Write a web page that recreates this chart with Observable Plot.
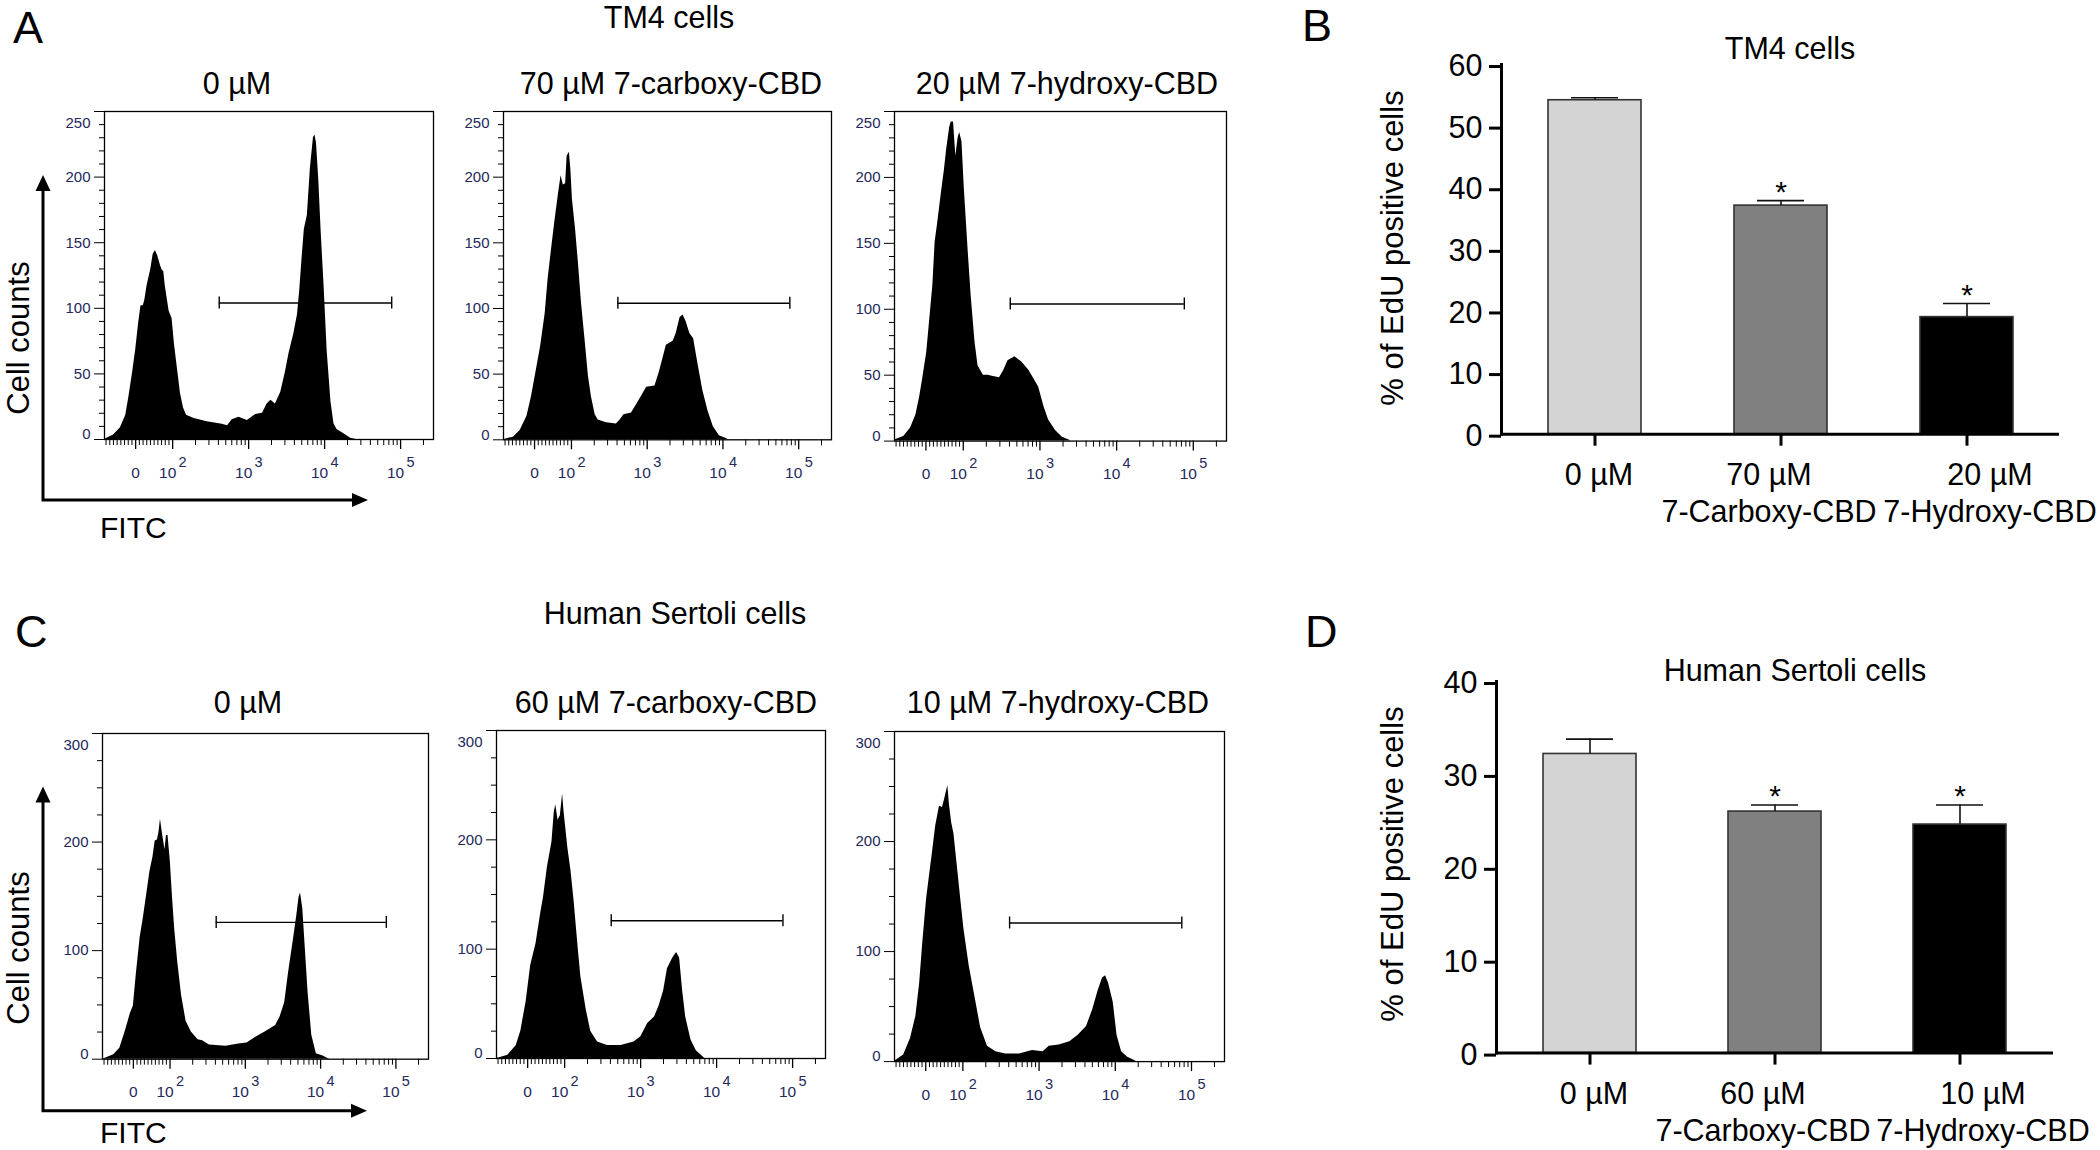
<!DOCTYPE html>
<html>
<head>
<meta charset="utf-8">
<script src="https://cdn.jsdelivr.net/npm/d3@7"></script>
<script src="https://cdn.jsdelivr.net/npm/@observablehq/plot@0.6"></script>
<style>
  html, body { margin: 0; padding: 0; background: #fff; }
  #fig { position: relative; width: 2100px; height: 1150px; overflow: hidden; background: #fff;
         font-family: "Liberation Sans", Arial, Helvetica, sans-serif; }
</style>
</head>
<body>
<div id="fig"></div>
<script>
// ---------------- DATA ----------------
// Flow-cytometry histograms: [FITC position on the biexponential display (decades, 0 at the "0" tick), cell count]
const tm4Control = [[-0.41,0],[-0.38,1],[-0.29,3.5],[-0.20,9],[-0.13,18.5],[-0.09,32],[-0.04,51],[0,68],[0.04,89],[0.07,102],[0.10,102],[0.12,106],[0.15,117],[0.20,130],[0.23,141],[0.26,144],[0.29,140],[0.33,132],[0.35,129],[0.37,128],[0.39,117],[0.44,98],[0.48,92],[0.51,73],[0.55,54],[0.59,35],[0.63,24],[0.67,18.5],[0.77,16],[0.94,13.6],[1.14,11.7],[1.21,10.4],[1.27,15],[1.36,17],[1.47,14.4],[1.58,19],[1.67,20],[1.73,27],[1.78,30],[1.84,27],[1.91,36],[1.97,51],[2.02,66],[2.08,80],[2.13,95],[2.16,114],[2.19,138],[2.22,160],[2.26,171],[2.30,207],[2.34,230],[2.36,232],[2.38,226],[2.41,198],[2.44,160],[2.48,117],[2.52,68],[2.57,29],[2.61,12],[2.65,7.6],[2.74,4.4],[2.83,1],[2.90,0]];
const tm4Carboxy = [[-0.41,0],[-0.39,0.5],[-0.28,2],[-0.19,7],[-0.10,18],[-0.04,33],[0.03,55],[0.08,71],[0.14,96],[0.18,123],[0.23,148],[0.27,167],[0.32,189],[0.35,201],[0.38,194],[0.41,195],[0.43,216],[0.46,219],[0.48,205],[0.50,183],[0.54,161],[0.58,134],[0.62,104],[0.67,74],[0.71,49],[0.75,33],[0.80,19],[0.84,15],[0.95,13],[1.08,12],[1.13,15],[1.18,19],[1.28,20.5],[1.35,27],[1.41,33],[1.48,40],[1.59,41],[1.65,52],[1.70,63],[1.74,72],[1.83,75],[1.87,81],[1.92,93],[1.96,95],[2.00,90],[2.05,81],[2.10,77],[2.16,57],[2.22,38],[2.29,22],[2.36,10],[2.44,3],[2.53,1],[2.56,0]];
const tm4Hydroxy = [[-0.41,0],[-0.40,1],[-0.29,3.5],[-0.20,10],[-0.13,20],[-0.08,34],[-0.04,48],[0.01,67],[0.04,86],[0.09,118],[0.12,151],[0.15,164],[0.18,178],[0.21,192],[0.24,205],[0.27,221],[0.31,238],[0.33,242],[0.36,242],[0.39,216],[0.42,230],[0.44,234],[0.47,227],[0.50,192],[0.55,145],[0.59,110],[0.64,75],[0.68,57],[0.75,50],[0.81,50],[0.88,49],[0.96,48],[1.01,53],[1.07,61],[1.16,64],[1.25,60],[1.34,54],[1.40,48],[1.47,41],[1.54,26],[1.60,16],[1.69,8],[1.78,3],[1.86,1],[1.89,0]];
const sertoliControl = [[-0.41,0],[-0.39,0.5],[-0.26,4],[-0.18,10],[-0.11,25],[-0.04,42],[0,49],[0.04,79],[0.09,112],[0.13,129],[0.18,153],[0.22,173],[0.26,186],[0.29,201],[0.32,202],[0.34,209],[0.36,221],[0.39,206],[0.42,193],[0.44,206],[0.46,206],[0.49,183],[0.52,149],[0.55,119],[0.59,89],[0.64,59],[0.70,35],[0.77,25],[0.86,18],[0.92,17],[1.01,13],[1.23,12],[1.40,14],[1.51,15],[1.62,20],[1.75,25],[1.89,31],[1.95,39],[2.01,52],[2.06,79],[2.13,112],[2.17,132],[2.20,149],[2.22,153],[2.25,139],[2.28,106],[2.32,62],[2.37,22],[2.43,5],[2.52,3],[2.59,0.5],[2.61,0]];
const sertoliCarboxy = [[-0.41,0],[-0.37,0.7],[-0.26,3],[-0.15,12],[-0.09,25],[-0.02,52],[0.04,85],[0.11,105],[0.17,132],[0.21,148],[0.26,175],[0.32,198],[0.35,225],[0.37,232],[0.40,218],[0.43,222],[0.46,242],[0.48,225],[0.53,192],[0.57,172],[0.61,145],[0.66,105],[0.70,75],[0.77,45],[0.83,25],[0.92,15],[1.05,12],[1.23,12],[1.40,15],[1.49,20],[1.58,32],[1.67,38],[1.73,48],[1.79,62],[1.84,82],[1.91,92],[1.96,97],[2.00,92],[2.04,62],[2.08,38],[2.15,17],[2.22,7],[2.30,2],[2.33,0]];
const sertoliHydroxy = [[-0.41,0],[-0.40,0.7],[-0.29,6],[-0.20,21],[-0.13,41],[-0.08,71],[-0.04,107],[0.01,147],[0.04,164],[0.09,191],[0.13,214],[0.18,232],[0.22,231],[0.25,239],[0.29,251],[0.31,234],[0.34,217],[0.37,207],[0.42,174],[0.46,147],[0.50,121],[0.57,87],[0.64,61],[0.72,31],[0.81,14],[0.92,9],[1.05,7],[1.23,7],[1.40,10],[1.54,9],[1.62,14],[1.75,15],[1.89,18],[2.00,24],[2.11,32],[2.19,47],[2.26,64],[2.32,76],[2.36,78],[2.40,71],[2.46,54],[2.51,24],[2.57,9],[2.65,4],[2.74,1],[2.76,0]];

// EdU-positive gates (display decades) and the count level at which each is drawn
const tm4Gate = [1.10, 3.37];
const tm4GateLevel = 104;
const sertoliGate = [1.10, 3.36];
const sertoliGateLevel = 126;

// FITC axis ticks (FITC intensity) and their labels
const xMajorTicks = [0, 1e2, 1e3, 1e4, 1e5];
const xMajorBase = ["0", "10", "10", "10", "10"];
const xMajorExp = ["", "2", "3", "4", "5"];

// Histogram titles
const tm4Titles = ["0 µM", "70 µM 7-carboxy-CBD", "20 µM 7-hydroxy-CBD"];
const sertoliTitles = ["0 µM", "60 µM 7-carboxy-CBD", "10 µM 7-hydroxy-CBD"];

// Bar charts: % of EdU positive cells (mean, SEM)
const tm4Doses = ["0 µM", "70 µM", "20 µM"];
const tm4Compounds = ["", "7-Carboxy-CBD", "7-Hydroxy-CBD"];
const tm4Mean = [54.2, 37.1, 19.0];
const tm4Sem = [0.4, 0.8, 2.2];
const sertoliDoses = ["0 µM", "60 µM", "10 µM"];
const sertoliCompounds = ["", "7-Carboxy-CBD", "7-Hydroxy-CBD"];
const sertoliMean = [32.2, 26.0, 24.6];
const sertoliSem = [1.6, 0.7, 2.1];
const significant = [false, true, true];

// ---------------- STYLE / HELPERS ----------------
const FONT = "'Liberation Sans', Arial, Helvetica, sans-serif";
const TICKTEXT = "#24285c";
const barFills = ["#d4d4d4", "#808080", "#000000"];
const labelNudge = [4, -12, 23];
const BARFONT = 30.5;
const fig = document.getElementById("fig");

// biexponential-style display: linear below 100, logarithmic above
function disp(v) { return v <= 100 ? 0.487 * v / 100 : 0.487 + Math.log10(v / 100); }
const xDomain = [-0.41, 3.92];

function place(el, left, top) {
  el.style.position = "absolute";
  el.style.left = left + "px";
  el.style.top = top + "px";
  el.style.maxWidth = "none";
  fig.appendChild(el);
}

function histogram(data, gate, gateLevel, yMax, yStepMajor, yStepMinor, frame) {
  const [L, T, R, B] = frame;
  const mL = 70, mR = 10, mT = 10, mB = 60;
  const innerH = B - T;
  const capHalf = 6 * yMax / innerH;
  const rows = data.map(([fitc, count]) => ({fitc, count}));
  const yMajor = d3.range(0, yMax + 1, yStepMajor);
  const yMinor = d3.range(0, yMax + 1, yStepMinor).filter(v => v % yStepMajor !== 0);
  const ticks = xMajorTicks.map((v, i) => ({x: disp(v), base: xMajorBase[i], exp: xMajorExp[i]}));
  const xMinor = [...d3.range(-80, 100, 10).filter(v => v !== 0),
                  ...[1e2, 1e3, 1e4].flatMap(p => [2,3,4,5,6,7,8,9].map(m => m * p)), 2e5];
  const svg = Plot.plot({
    width: R - L + mL + mR, height: B - T + mT + mB,
    marginLeft: mL, marginRight: mR, marginTop: mT, marginBottom: mB,
    style: {background: "transparent", overflow: "visible", fontFamily: FONT},
    x: {domain: xDomain, axis: null},
    y: {domain: [0, yMax], axis: null},
    marks: [
      Plot.areaY(rows, {x: "fitc", y: "count", fill: "#000", curve: "linear"}),
      Plot.frame({stroke: "#000", strokeWidth: 1.3}),
      Plot.axisY({ticks: yMinor, tickSize: 5, tickFormat: () => "", label: null, strokeWidth: 1}),
      Plot.axisY({ticks: yMajor, tickSize: 10, tickFormat: () => "", label: null, strokeWidth: 1}),
      Plot.text(yMajor.slice(1, -1), {y: d => d, text: d => String(d), frameAnchor: "left", textAnchor: "end", dx: -14, fontSize: 15, fill: TICKTEXT, fontFamily: FONT}),
      Plot.text([yMajor[0]], {y: d => d, text: d => String(d), frameAnchor: "left", textAnchor: "end", dx: -14, dy: -5, fontSize: 15, fill: TICKTEXT, fontFamily: FONT}),
      Plot.text([yMajor[yMajor.length - 1]], {y: d => d, text: d => String(d), frameAnchor: "left", textAnchor: "end", dx: -14, dy: 12, fontSize: 15, fill: TICKTEXT, fontFamily: FONT}),
      Plot.axisX({ticks: xMinor.map(disp), tickSize: 6, tickFormat: () => "", label: null, strokeWidth: 1}),
      Plot.axisX({ticks: xMajorTicks.map(disp), tickSize: 10, tickFormat: () => "", label: null, strokeWidth: 1.3}),
      Plot.text(ticks.filter(d => d.exp === ""), {x: "x", text: "base", frameAnchor: "bottom", dy: 38, fontSize: 15.5, fill: TICKTEXT, fontFamily: FONT}),
      Plot.text(ticks.filter(d => d.exp !== ""), {x: "x", text: "base", frameAnchor: "bottom", dy: 38, dx: -5, fontSize: 15.5, fill: TICKTEXT, fontFamily: FONT}),
      Plot.text(ticks.filter(d => d.exp !== ""), {x: "x", text: "exp", frameAnchor: "bottom", dy: 27, dx: 10, fontSize: 14.5, fill: TICKTEXT, fontFamily: FONT}),
      Plot.ruleY([gateLevel], {x1: () => gate[0], x2: () => gate[1], stroke: "#000", strokeWidth: 1.4}),
      Plot.ruleX(gate, {x: d => d, y1: () => gateLevel - capHalf, y2: () => gateLevel + capHalf, stroke: "#000", strokeWidth: 1.4})
    ]
  });
  place(svg, L - mL, T - mT);
}

function barChart(doses, compounds, means, sems, yMax, frame) {
  const [L, T, R, B] = frame;
  const mL = 80, mT = 30, mB = 100, mR = 2100 - R;
  const rows = doses.map((d, i) => ({
    group: compounds[i] ? d + "\n" + compounds[i] : d,
    mean: means[i], sem: sems[i], sig: significant[i], i
  }));
  const groups = rows.map(d => d.group);
  const svg = Plot.plot({
    width: R - L + mL + mR, height: B - T + mT + mB,
    marginLeft: mL, marginRight: mR, marginTop: mT, marginBottom: mB,
    style: {background: "transparent", overflow: "visible", fontFamily: FONT},
    x: {domain: groups, paddingInner: 0.5, paddingOuter: 0.25, axis: null},
    y: {domain: [0, yMax], axis: null},
    color: {type: "ordinal", domain: groups, range: barFills},
    marks: [
      Plot.barY(rows, {x: "group", y: "mean", fill: "group", stroke: "#333", strokeWidth: 1.6}),
      Plot.ruleX(rows, {x: "group", y1: "mean", y2: d => d.mean + d.sem, stroke: "#111", strokeWidth: 1.6}),
      Plot.tickY(rows, {x: "group", y: d => d.mean + d.sem, stroke: "#111", strokeWidth: 1.6, insetLeft: 23, insetRight: 23}),
      Plot.text(rows.filter(d => d.sig), {x: "group", y: d => d.mean + d.sem, text: () => "*", lineAnchor: "bottom", dy: 1, fontSize: 30, fontFamily: FONT}),
      Plot.ruleY([0], {stroke: "#000", strokeWidth: 3}),
      Plot.frame({anchor: "left", stroke: "#000", strokeWidth: 3}),
      Plot.axisY({ticks: d3.range(0, yMax + 1, 10), tickSize: 12, tickPadding: 7, strokeWidth: 3, fontSize: BARFONT, label: null, tickFormat: d => String(d), dy: 2, fontFamily: FONT}),
      Plot.axisX({tickSize: 12, strokeWidth: 3, tickFormat: () => "", label: null}),
      ...rows.map(d => Plot.text([d], {x: "group", text: "group", frameAnchor: "bottom", lineAnchor: "top", dy: 25, dx: labelNudge[d.i], fontSize: BARFONT, lineHeight: 1.2, fontFamily: FONT}))
    ]
  });
  place(svg, L - mL, T - mT);
}

// ---------------- BUILD ----------------
histogram(tm4Control, tm4Gate, tm4GateLevel, 250, 50, 10, [104, 111, 433, 439]);
histogram(tm4Carboxy, tm4Gate, tm4GateLevel, 250, 50, 10, [503, 111, 831, 439.3]);
histogram(tm4Hydroxy, tm4Gate, tm4GateLevel, 250, 50, 10, [894, 111.4, 1226, 441]);
histogram(sertoliControl, sertoliGate, sertoliGateLevel, 300, 100, 25, [102, 732.7, 428, 1058.4]);
histogram(sertoliCarboxy, sertoliGate, sertoliGateLevel, 300, 100, 25, [496, 730, 825, 1058]);
histogram(sertoliHydroxy, sertoliGate, sertoliGateLevel, 300, 100, 25, [894, 730.5, 1224, 1060.6]);

barChart(tm4Doses, tm4Compounds, tm4Mean, tm4Sem, 60, [1501, 64.3, 2059, 434]);
barChart(sertoliDoses, sertoliCompounds, sertoliMean, sertoliSem, 40, [1496, 681, 2053, 1052.6]);

// ---------------- OVERLAY: panel letters, titles, axis names, arrows ----------------
const ov = d3.create("svg")
  .attr("width", 2100).attr("height", 1150)
  .attr("font-family", FONT)
  .style("position", "absolute").style("left", "0px").style("top", "0px")
  .style("pointer-events", "none").style("overflow", "visible");

const letters = [["A", 13, 43], ["B", 1302, 41], ["C", 15, 647], ["D", 1305, 647]];
ov.append("g").attr("font-size", 45).selectAll("text").data(letters).join("text")
  .attr("x", d => d[1]).attr("y", d => d[2]).text(d => d[0]);

const titles = [
  ["TM4 cells", 669, 28],
  [tm4Titles[0], 237, 93.6], [tm4Titles[1], 671, 93.6], [tm4Titles[2], 1067, 93.6],
  ["Human Sertoli cells", 675, 623.6],
  [sertoliTitles[0], 248, 713], [sertoliTitles[1], 666, 713], [sertoliTitles[2], 1058, 713],
  ["TM4 cells", 1790, 59],
  ["Human Sertoli cells", 1795, 681]
];
ov.append("g").attr("font-size", 30.5).attr("text-anchor", "middle").selectAll("text").data(titles).join("text")
  .attr("x", d => d[1]).attr("y", d => d[2]).text(d => d[0]);

// axis names
const rotated = [["Cell counts", 29, 338, 31], ["Cell counts", 29, 948, 31],
                 ["% of EdU positive cells", 1403, 248, 31], ["% of EdU positive cells", 1403, 864, 31]];
ov.append("g").attr("text-anchor", "middle").selectAll("text").data(rotated).join("text")
  .attr("font-size", d => d[3])
  .attr("transform", d => `translate(${d[1]},${d[2]}) rotate(-90)`).text(d => d[0]);
ov.append("g").attr("font-size", 30).selectAll("text").data([["FITC", 100, 537.5], ["FITC", 100, 1143]]).join("text")
  .attr("x", d => d[1]).attr("y", d => d[2]).text(d => d[0]);

// axis arrows (corner at x=43, line y; vertical tip y; horizontal tip x)
const arrows = [{y: 500, top: 175, right: 368}, {y: 1110.7, top: 786.5, right: 367}];
const ag = ov.append("g");
for (const a of arrows) {
  ag.append("path").attr("d", `M43,${a.y} V${a.top + 14} M41.5,${a.y} H${a.right - 14}`)
    .attr("stroke", "#000").attr("stroke-width", 3).attr("fill", "none");
  ag.append("path").attr("d", `M43,${a.top} L35.5,${a.top + 16} L50.5,${a.top + 16} Z`).attr("fill", "#000");
  ag.append("path").attr("d", `M${a.right},${a.y} L${a.right - 16},${a.y - 7} L${a.right - 16},${a.y + 7} Z`).attr("fill", "#000");
}
fig.appendChild(ov.node());
</script>
</body>
</html>
